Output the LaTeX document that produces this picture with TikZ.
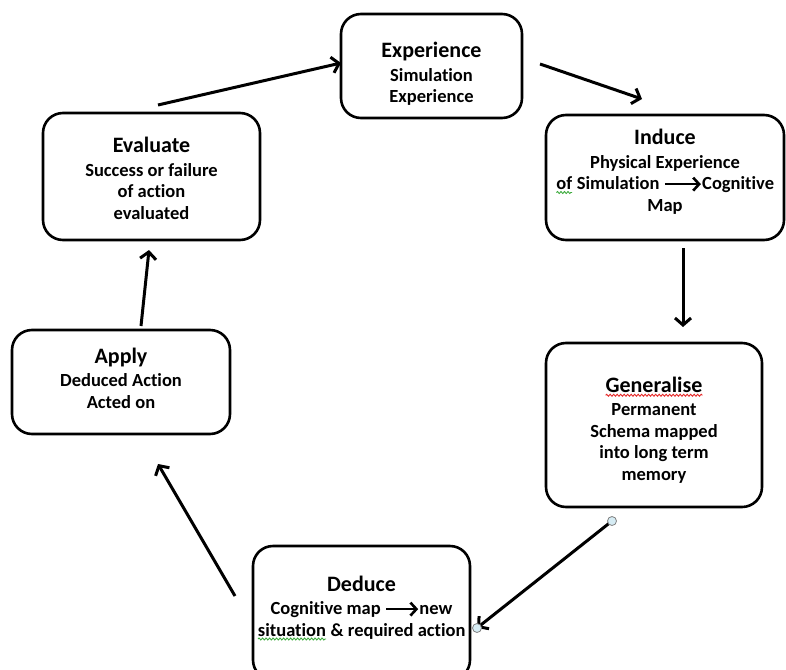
\documentclass[tikz,border=0pt]{standalone}
\usepackage{fontspec}
\setmainfont{Carlito}[Ligatures=NoCommon]
\usetikzlibrary{arrows.meta,decorations.pathmorphing}

\definecolor{handleblue}{RGB}{214,236,244}
\definecolor{spellred}{RGB}{230,40,40}
\definecolor{spellgreen}{RGB}{60,170,60}

\newcommand{\titlefont}{\fontsize{22}{26}\selectfont\bfseries}
\newcommand{\bodyfont}{\fontsize{18.5}{21.5}\selectfont\bfseries}
% arrow drawn inside the text
\newcommand{\txtarrow}[1]{\tikz[baseline=-0.6ex]\draw[-{Straight Barb[length=6pt,width=13pt]},line width=2.6pt] (0pt,0pt) -- (#1,0pt);}
% spell check underline
\newcommand{\wavy}[2]{\tikz[baseline=(w.base)]{\node[inner sep=0pt,outer sep=0pt,minimum width=0pt,minimum height=0pt,draw=none] (w) {#2};
  \draw[#1,line width=0.9pt,decorate,decoration={snake,amplitude=1pt,segment length=3.5pt}] ([yshift=-3pt]w.base west) -- ([yshift=-3pt]w.base east);}}

\begin{document}
\begin{tikzpicture}[x=1pt,y=-1pt,>={Straight Barb[length=7pt,width=16pt]}]
	\tikzset{box/.style={draw,rounded corners=20pt,line width=2.6pt,inner sep=0pt},
		txt/.style={align=center,font=\bodyfont,inner sep=0pt},
		flow/.style={->,line width=3pt},
		handle/.style={draw=gray,fill=handleblue,line width=0.8pt}}
	\useasboundingbox (0,0) rectangle (786,669);

	\node[box, minimum width=181pt, minimum height=104pt] (exp) at (431.5,66) {};
	\node[box, minimum width=238pt, minimum height=125pt] (ind) at (665,177.5) {};
	\node[box, minimum width=216pt, minimum height=164pt] (gen) at (654,425) {};
	\node[box, minimum width=217pt, minimum height=134pt] (ded) at (361.5,613) {};
	\node[box, minimum width=218pt, minimum height=104pt] (app) at (121,382) {};
	\node[box, minimum width=217pt, minimum height=127pt] (eva) at (151.5,176.5) {};

	\node[txt] (exp text) at ([yshift=-8pt]exp.center) {{\titlefont Experience}\\[2pt] Simulation\\ Experience};
	\node[txt] (ind text) at ([yshift=6pt]ind.center) {{\titlefont Induce}\\[2pt] Physical Experience\\ \wavy{spellgreen}{of} Simulation \txtarrow{36pt}Cognitive\\ Map};
	\node[txt] (gen text) at ([yshift=-5pt]gen.center) {{\titlefont \wavy{spellred}{Generalise}}\\[2pt] Permanent\\ Schema mapped\\ into long term\\ memory};
	\node[txt] (ded text) at ([yshift=5pt]ded.center) {{\titlefont Deduce}\\[2pt] Cognitive map \txtarrow{32pt}new\\ \wavy{spellgreen}{situation} \& required action};
	\node[txt] (app text) at ([yshift=4pt]app.center) {{\titlefont Apply}\\[2pt] Deduced Action\\ Acted on};
	\node[txt] (eva text) at ([yshift=-2pt]eva.center) {{\titlefont Evaluate}\\[2pt] Success or failure\\ of action\\ evaluated};

	% arrow ends
	\coordinate (eva out) at (158,105);
	\coordinate (exp in) at (341,63);
	\coordinate (exp out) at (540,64);
	\coordinate (ind in) at (642,99);
	\coordinate (ind out) at (683,248);
	\coordinate (gen in) at (683,327);
	\coordinate (gen out) at (612,521);
	\coordinate (ded in) at (477,628);
	\coordinate (ded out) at (235,596);
	\coordinate (app in) at (158,464);
	\coordinate (app out) at (141,326);
	\coordinate (eva in) at (149,250);

	\draw[flow] (eva out) -- (exp in);
	\draw[flow] (exp out) -- (ind in);
	\draw[flow] (ind out) -- (gen in);
	\draw[flow] (gen out) -- (ded in);
	\draw[flow] (ded out) -- (app in);
	\draw[flow] (app out) -- (eva in);

	\draw[handle] (gen out) circle (4.5);
	\draw[handle] (ded in) circle (4.5);
\end{tikzpicture}
\end{document}
